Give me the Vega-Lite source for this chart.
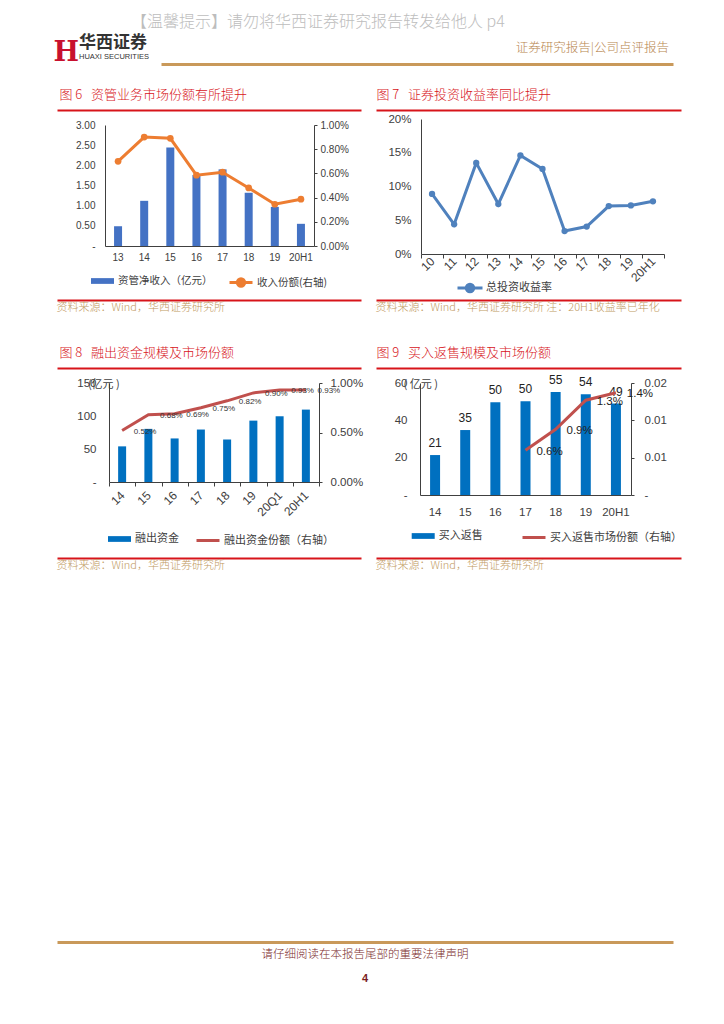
{
  "$schema": "https://vega.github.io/schema/vega-lite/v6.json",
  "background": "white",
  "padding": {"left": 52, "top": 13, "right": 5, "bottom": 5},
  "bounds": "flush",
  "align": "each",
  "columns": 2,
  "spacing": 0,
  "resolve": {"scale": {"fill": "independent", "stroke": "independent"}, "legend": {"fill": "independent", "stroke": "independent"}},
  "title": {"text": "【温馨提示】请勿将华西证券研究报告转发给他人 p4", "anchor": "start", "frame": "group", "dx": 74, "offset": 4, "fontSize": 16, "fontWeight": 300, "color": "#BDBDBD", "font": "Noto Sans CJK SC"},
  "config": {
    "view": {"stroke": null},
    "font": "Liberation Sans",
    "axis": {"grid": false, "labelOverlap": false, "domainColor": "#404040", "tickColor": "#404040", "labelColor": "#404040", "labelFont": "Liberation Sans", "titleFont": "Noto Sans CJK SC"},
    "legend": {"labelFont": "Noto Sans CJK SC", "labelColor": "#404040", "padding": 0, "labelOffset": 4, "labelLimit": 300},
    "title": {"font": "Noto Sans CJK SC", "fontWeight": "normal"}
  },
  "datasets": {
    "d6": [
      {"year": "13", "income": 0.49, "share": 0.0070},
      {"year": "14", "income": 1.12, "share": 0.0090},
      {"year": "15", "income": 2.44, "share": 0.0089},
      {"year": "16", "income": 1.76, "share": 0.00585},
      {"year": "17", "income": 1.90, "share": 0.0061},
      {"year": "18", "income": 1.32, "share": 0.0048},
      {"year": "19", "income": 0.97, "share": 0.00345},
      {"year": "20H1", "income": 0.55, "share": 0.00387}
    ],
    "d7": [
      {"year": "10", "rate": 0.089},
      {"year": "11", "rate": 0.044},
      {"year": "12", "rate": 0.135},
      {"year": "13", "rate": 0.074},
      {"year": "14", "rate": 0.146},
      {"year": "15", "rate": 0.126},
      {"year": "16", "rate": 0.034},
      {"year": "17", "rate": 0.0406},
      {"year": "18", "rate": 0.071},
      {"year": "19", "rate": 0.072},
      {"year": "20H1", "rate": 0.078}
    ],
    "d8": [
      {"year": "14", "amount": 54, "share": 0.0052},
      {"year": "15", "amount": 80.5, "share": 0.0068},
      {"year": "16", "amount": 66, "share": 0.0069},
      {"year": "17", "amount": 79.5, "share": 0.0075},
      {"year": "18", "amount": 64.4, "share": 0.0082},
      {"year": "19", "amount": 93, "share": 0.0090},
      {"year": "20Q1", "amount": 99.6, "share": 0.0093},
      {"year": "20H1", "amount": 109.7, "share": 0.0093}
    ],
    "d9": [
      {"year": "14", "amount": 21.4, "share": null},
      {"year": "15", "amount": 34.8, "share": null},
      {"year": "16", "amount": 49.7, "share": null},
      {"year": "17", "amount": 50.2, "share": 0.006},
      {"year": "18", "amount": 55.2, "share": 0.0088},
      {"year": "19", "amount": 54, "share": 0.0127},
      {"year": "20H1", "amount": 49, "share": 0.0137}
    ],
    "line2": [{"v": 0}, {"v": 1}],
    "empty": []
  },
  "concat": [
    {"width": 319, "height": 1, "data": {"name": "line2"}, "mark": {"type": "point", "opacity": 0, "size": 1},
     "encoding": {"x": {"field": "v", "type": "quantitative", "scale": {"range": [104, 616]}, "axis": {"domainColor": "#C9995A", "domainWidth": 3, "ticks": false, "labels": false, "title": "H", "titleFont": "DejaVu Serif", "titleFontSize": 27, "titleFontWeight": "bold", "titleColor": "#C8102E", "titleAlign": "left", "titleBaseline": "alphabetic", "titleX": -4, "titleY": -4}}},
     "title": {"text": "华西证券", "subtitle": "HUAXI SECURITIES", "orient": "bottom", "anchor": "start", "frame": "group", "dx": 22, "offset": -30.5, "fontSize": 17, "fontWeight": "bold", "color": "#333333", "subtitleFont": "Liberation Sans", "subtitleFontSize": 7.5, "subtitleColor": "#333333", "subtitlePadding": 1}},
    {"width": 305, "height": 1, "data": {"name": "line2"}, "mark": {"type": "point", "opacity": 0, "size": 1},
     "encoding": {"x": {"field": "v", "type": "quantitative", "axis": null}},
     "title": {"text": "证券研究报告|公司点评报告", "anchor": "end", "frame": "group", "dx": -12, "offset": 9, "fontSize": 12.5, "fontWeight": 300, "color": "#B8864E"}},

    {"width": 1, "height": 45, "data": {"name": "empty"}, "mark": "point"},
    {"width": 1, "height": 45, "data": {"name": "empty"}, "mark": "point"},

    {"width": 1, "height": 1, "data": {"name": "line2"}, "mark": {"type": "point", "opacity": 0, "size": 1},
     "encoding": {"x": {"field": "v", "type": "quantitative", "scale": {"range": [0, 304]}, "axis": {"domainColor": "#D7141A", "domainWidth": 2, "ticks": false, "labels": false, "title": null}}},
     "title": {"text": "图 6\u00a0\u00a0\u00a0资管业务市场份额有所提升", "anchor": "start", "dx": 3, "offset": 7, "fontSize": 13, "fontWeight": 300, "color": "#D7141A"}},
    {"width": 1, "height": 1, "data": {"name": "line2"}, "mark": {"type": "point", "opacity": 0, "size": 1},
     "encoding": {"x": {"field": "v", "type": "quantitative", "scale": {"range": [0, 305]}, "axis": {"domainColor": "#D7141A", "domainWidth": 2, "ticks": false, "labels": false, "title": null}}},
     "title": {"text": "图 7\u00a0\u00a0\u00a0证券投资收益率同比提升", "anchor": "start", "dx": 1, "offset": 7, "fontSize": 13, "fontWeight": 300, "color": "#D7141A"}},

    {"width": 1, "height": 9, "data": {"name": "empty"}, "mark": "point"},
    {"width": 1, "height": 9, "data": {"name": "empty"}, "mark": "point"},

    {
      "width": 257, "height": 127,
      "data": {"name": "d6"},
      "layer": [
        {
          "mark": {"type": "bar", "width": 8},
          "encoding": {
            "x": {"field": "year", "type": "ordinal", "sort": null, "scale": {"type": "band", "paddingInner": 0, "paddingOuter": 0, "range": [48, 257]}, "axis": {"title": null, "labelAngle": 0, "ticks": false, "labelFontSize": 10, "labelPadding": 6}},
            "y": {"field": "income", "type": "quantitative", "scale": {"domain": [0, 3], "nice": false, "range": [127, 6]}, "axis": {"title": null, "offset": -48, "values": [0, 0.5, 1, 1.5, 2, 2.5, 3], "labelExpr": "datum.value == 0 ? '-' : format(datum.value, '.2f')", "ticks": false, "labelPadding": 10, "labelFontSize": 10}},
            "fill": {"datum": "资管净收入（亿元）", "type": "nominal", "scale": {"range": ["#4472C4"]}, "legend": {"title": null, "orient": "none", "legendX": 34, "legendY": 150.5, "symbolType": "M-1,-0.25H1V0.25H-1Z", "symbolSize": 529, "symbolStrokeWidth": 0, "labelFontSize": 10.5, "labelOffset": 4}}
          }
        },
        {
          "layer": [
            {
              "mark": {"type": "line", "strokeWidth": 3},
              "encoding": {
                "x": {"field": "year", "type": "ordinal", "sort": null, "bandPosition": 0.5},
                "y": {"field": "share", "type": "quantitative", "scale": {"domain": [0, 0.01], "nice": false, "range": [127, 6]}, "axis": {"orient": "right", "title": null, "labelOverlap": false, "values": [0, 0.002, 0.004, 0.006, 0.008, 0.01], "format": ".2%", "tickSize": 3, "labelPadding": 3, "labelFontSize": 10}},
                "stroke": {"datum": "收入份额(右轴)", "type": "nominal", "scale": {"range": ["#ED7D31"]}, "legend": {"title": null, "orient": "none", "legendX": 171, "legendY": 150.5, "symbolType": "M-1,0H1M0.32,0A0.32,0.32,0,1,1,-0.32,0A0.32,0.32,0,1,1,0.32,0", "symbolSize": 529, "symbolStrokeWidth": 3, "labelFontSize": 10.5, "labelOffset": 3, "encode": {"symbols": {"update": {"fill": {"value": "#ED7D31"}}}}}}
              }
            },
            {
              "mark": {"type": "point", "filled": true, "size": 45, "color": "#ED7D31", "opacity": 1},
              "encoding": {
                "x": {"field": "year", "type": "ordinal", "sort": null, "bandPosition": 0.5},
                "y": {"field": "share", "type": "quantitative", "axis": {"orient": "right", "title": null, "labelOverlap": false, "values": [0, 0.002, 0.004, 0.006, 0.008, 0.01], "format": ".2%", "tickSize": 3, "labelPadding": 3, "labelFontSize": 10}}
              }
            }
          ]
        }
      ],
      "resolve": {"scale": {"y": "independent"}}
    },
    {
      "width": 288, "height": 135,
      "data": {"name": "d7"},
      "layer": [
        {
          "mark": {"type": "line", "strokeWidth": 3},
          "encoding": {
            "x": {"field": "year", "type": "ordinal", "sort": null, "bandPosition": 0.5, "scale": {"type": "band", "paddingInner": 0, "paddingOuter": 0, "range": [45, 288]}, "axis": {"title": null, "labelAngle": -45, "labelAlign": "right", "labelBaseline": "middle", "tickBand": "extent", "tickSize": 4, "labelFontSize": 12, "labelPadding": 1}},
            "y": {"field": "rate", "type": "quantitative", "scale": {"domain": [0, 0.2], "nice": false}, "axis": {"title": null, "offset": -45, "labelOverlap": false, "values": [0, 0.05, 0.1, 0.15, 0.2], "format": ".0%", "ticks": false, "labelPadding": 10, "labelFontSize": 11.5}},
            "stroke": {"datum": "总投资收益率", "type": "nominal", "scale": {"range": ["#4F81BD"]}, "legend": {"title": null, "orient": "none", "legendX": 80, "legendY": 155, "symbolType": "M-1,0H1M0.3,0A0.3,0.3,0,1,1,-0.3,0A0.3,0.3,0,1,1,0.3,0", "symbolSize": 625, "symbolStrokeWidth": 3, "labelFontSize": 11, "labelOffset": 2, "encode": {"symbols": {"update": {"fill": {"value": "#4F81BD"}}}}}}
          }
        },
        {
          "mark": {"type": "point", "filled": true, "size": 40, "color": "#4F81BD", "opacity": 1},
          "encoding": {
            "x": {"field": "year", "type": "ordinal", "sort": null, "bandPosition": 0.5},
            "y": {"field": "rate", "type": "quantitative", "axis": {"title": null, "offset": -45, "labelOverlap": false, "values": [0, 0.05, 0.1, 0.15, 0.2], "format": ".0%", "ticks": false, "labelPadding": 10, "labelFontSize": 11.5}}
          }
        }
      ]
    },

    {"width": 1, "height": 45, "data": {"name": "empty"}, "mark": "point"},
    {"width": 1, "height": 45, "data": {"name": "empty"}, "mark": "point"},

    {"width": 1, "height": 1, "data": {"name": "line2"}, "mark": {"type": "point", "opacity": 0, "size": 1},
     "encoding": {"x": {"field": "v", "type": "quantitative", "scale": {"range": [0, 304]}, "axis": {"domainColor": "#D7141A", "domainWidth": 2, "ticks": false, "labels": false, "title": null}}},
     "title": {"text": "资料来源：Wind，华西证券研究所", "orient": "bottom", "anchor": "start", "offset": 2, "fontSize": 11, "fontWeight": 300, "color": "#BF9A62"}},
    {"width": 1, "height": 1, "data": {"name": "line2"}, "mark": {"type": "point", "opacity": 0, "size": 1},
     "encoding": {"x": {"field": "v", "type": "quantitative", "scale": {"range": [0, 305]}, "axis": {"domainColor": "#D7141A", "domainWidth": 2, "ticks": false, "labels": false, "title": null}}},
     "title": {"text": "资料来源：Wind，华西证券研究所 注：20H1收益率已年化", "orient": "bottom", "anchor": "start", "offset": 2, "fontSize": 11, "fontWeight": 300, "color": "#BF9A62"}},

    {"width": 1, "height": 67, "data": {"name": "empty"}, "mark": "point"},
    {"width": 1, "height": 67, "data": {"name": "empty"}, "mark": "point"},

    {"width": 1, "height": 1, "data": {"name": "line2"}, "mark": {"type": "point", "opacity": 0, "size": 1},
     "encoding": {"x": {"field": "v", "type": "quantitative", "scale": {"range": [0, 304]}, "axis": {"domainColor": "#D7141A", "domainWidth": 2, "ticks": false, "labels": false, "title": null}}},
     "title": {"text": "图 8\u00a0\u00a0\u00a0融出资金规模及市场份额", "anchor": "start", "dx": 3, "offset": 7, "fontSize": 13, "fontWeight": 300, "color": "#D7141A"}},
    {"width": 1, "height": 1, "data": {"name": "line2"}, "mark": {"type": "point", "opacity": 0, "size": 1},
     "encoding": {"x": {"field": "v", "type": "quantitative", "scale": {"range": [0, 305]}, "axis": {"domainColor": "#D7141A", "domainWidth": 2, "ticks": false, "labels": false, "title": null}}},
     "title": {"text": "图 9\u00a0\u00a0\u00a0买入返售规模及市场份额", "anchor": "start", "dx": 1, "offset": 7, "fontSize": 13, "fontWeight": 300, "color": "#D7141A"}},

    {"width": 1, "height": 15, "data": {"name": "empty"}, "mark": "point"},
    {"width": 1, "height": 15, "data": {"name": "empty"}, "mark": "point"},

    {
      "width": 262, "height": 99,
      "data": {"name": "d8"},
      "layer": [
        {
          "mark": {"type": "bar", "width": 8},
          "encoding": {
            "x": {"field": "year", "type": "ordinal", "sort": null, "scale": {"type": "band", "paddingInner": 0, "paddingOuter": 0, "range": [52, 262]}, "axis": {"title": null, "labelAngle": -45, "labelAlign": "right", "labelBaseline": "middle", "tickBand": "extent", "tickSize": 4, "labelFontSize": 12, "labelPadding": 7}},
            "y": {"field": "amount", "type": "quantitative", "scale": {"domain": [0, 150], "nice": false}, "axis": {"title": "(亿元 )", "offset": -52, "titleAngle": 0, "titleX": -21.6, "titleY": 1.7, "titleAlign": "left", "titleBaseline": "middle", "titleFontSize": 11, "titleFontWeight": "normal", "titleColor": "#404040", "values": [0, 50, 100, 150], "labelExpr": "datum.value == 0 ? '-' : format(datum.value, 'd')", "ticks": false, "labelPadding": 13, "labelFontSize": 11.5}},
            "fill": {"datum": "融出资金", "type": "nominal", "scale": {"range": ["#0070C0"]}, "legend": {"title": null, "orient": "none", "legendX": 51, "legendY": 144.5, "symbolType": "M-1,-0.25H1V0.25H-1Z", "symbolSize": 529, "symbolStrokeWidth": 0, "labelFontSize": 11, "labelOffset": 4}}
          }
        },
        {
          "layer": [
            {
              "mark": {"type": "line", "strokeWidth": 3},
              "encoding": {
                "x": {"field": "year", "type": "ordinal", "sort": null, "bandPosition": 0.5},
                "y": {"field": "share", "type": "quantitative", "scale": {"domain": [0, 0.01], "nice": false}, "axis": {"orient": "right", "title": null, "labelOverlap": false, "values": [0, 0.005, 0.01], "format": ".2%", "tickSize": 3, "labelPadding": 8, "labelFontSize": 11.5}},
                "stroke": {"datum": "融出资金份额（右轴）", "type": "nominal", "scale": {"range": ["#C0504D"]}, "legend": {"title": null, "orient": "none", "legendX": 138, "legendY": 144.5, "symbolType": "M-1,0H1", "symbolSize": 529, "symbolStrokeWidth": 3, "labelFontSize": 11, "labelOffset": 3}}
              }
            },
            {
              "mark": {"type": "text", "dx": 23, "dy": 1, "fontSize": 8, "color": "#333333", "font": "Liberation Sans"},
              "encoding": {
                "x": {"field": "year", "type": "ordinal", "sort": null, "bandPosition": 0.5},
                "y": {"field": "share", "type": "quantitative", "axis": {"orient": "right", "title": null, "labelOverlap": false, "values": [0, 0.005, 0.01], "format": ".2%", "tickSize": 3, "labelPadding": 8, "labelFontSize": 11.5}},
                "text": {"field": "share", "type": "quantitative", "format": ".2%"}
              }
            }
          ]
        }
      ],
      "resolve": {"scale": {"y": "independent"}}
    },
    {
      "width": 255, "height": 112,
      "data": {"name": "d9"},
      "layer": [
        {
          "layer": [
            {
              "mark": {"type": "bar", "width": 10},
              "encoding": {
                "x": {"field": "year", "type": "ordinal", "sort": null, "scale": {"type": "band", "paddingInner": 0, "paddingOuter": 0, "range": [44, 255]}, "axis": {"title": null, "labelAngle": 0, "ticks": false, "labelFontSize": 11.5, "labelPadding": 11}},
                "y": {"field": "amount", "type": "quantitative", "scale": {"domain": [0, 60], "nice": false}, "axis": {"title": "( 亿元 )", "offset": -44, "titleAngle": 0, "titleX": -17, "titleY": 1.6, "titleAlign": "left", "titleBaseline": "middle", "titleFontSize": 11, "titleFontWeight": "normal", "titleColor": "#404040", "values": [0, 20, 40, 60], "labelExpr": "datum.value == 0 ? '-' : format(datum.value, 'd')", "ticks": false, "labelPadding": 13, "labelFontSize": 11.5}},
                "fill": {"datum": "买入返售", "type": "nominal", "scale": {"range": ["#0070C0"]}, "legend": {"title": null, "orient": "none", "legendX": 35.7, "legendY": 141.5, "symbolType": "M-1,-0.25H1V0.25H-1Z", "symbolSize": 529, "symbolStrokeWidth": 0, "labelFontSize": 11, "labelOffset": 4}}
              }
            },
            {
              "mark": {"type": "text", "dy": -12, "fontSize": 12, "color": "#222222", "font": "Liberation Sans"},
              "encoding": {
                "x": {"field": "year", "type": "ordinal", "sort": null, "bandPosition": 0.5},
                "y": {"field": "amount", "type": "quantitative", "axis": {"title": "( 亿元 )", "offset": -44, "titleAngle": 0, "titleX": -17, "titleY": 1.6, "titleAlign": "left", "titleBaseline": "middle", "titleFontSize": 11, "titleFontWeight": "normal", "titleColor": "#404040", "values": [0, 20, 40, 60], "labelExpr": "datum.value == 0 ? '-' : format(datum.value, 'd')", "ticks": false, "labelPadding": 13, "labelFontSize": 11.5}},
                "text": {"field": "amount", "type": "quantitative", "format": ".0f"}
              }
            }
          ]
        },
        {
          "layer": [
            {
              "mark": {"type": "line", "strokeWidth": 3},
              "encoding": {
                "x": {"field": "year", "type": "ordinal", "sort": null, "bandPosition": 0.5},
                "y": {"field": "share", "type": "quantitative", "scale": {"domain": [0, 0.015], "nice": false}, "axis": {"orient": "right", "title": null, "labelOverlap": false, "values": [0, 0.005, 0.01, 0.015], "labelExpr": "datum.value == 0 ? '-' : format(datum.value + 1e-9, '.2f')", "tickSize": 3, "labelPadding": 10, "labelFontSize": 11.5}},
                "stroke": {"datum": "买入返售市场份额（右轴）", "type": "nominal", "scale": {"range": ["#C0504D"]}, "legend": {"title": null, "orient": "none", "legendX": 145, "legendY": 141.5, "symbolType": "M-1,0H1", "symbolSize": 529, "symbolStrokeWidth": 3, "labelFontSize": 11, "labelOffset": 3}}
              }
            },
            {
              "mark": {"type": "text", "dx": 24, "dy": 1.5, "fontSize": 11.5, "color": "#222222", "font": "Liberation Sans"},
              "encoding": {
                "x": {"field": "year", "type": "ordinal", "sort": null, "bandPosition": 0.5},
                "y": {"field": "share", "type": "quantitative", "axis": {"orient": "right", "title": null, "labelOverlap": false, "values": [0, 0.005, 0.01, 0.015], "labelExpr": "datum.value == 0 ? '-' : format(datum.value + 1e-9, '.2f')", "tickSize": 3, "labelPadding": 10, "labelFontSize": 11.5}},
                "text": {"field": "share", "type": "quantitative", "format": ".1%"}
              }
            }
          ]
        }
      ],
      "resolve": {"scale": {"y": "independent"}}
    },

    {"width": 1, "height": 62, "data": {"name": "empty"}, "mark": "point"},
    {"width": 1, "height": 62, "data": {"name": "empty"}, "mark": "point"},

    {"width": 1, "height": 1, "data": {"name": "line2"}, "mark": {"type": "point", "opacity": 0, "size": 1},
     "encoding": {"x": {"field": "v", "type": "quantitative", "scale": {"range": [0, 304]}, "axis": {"domainColor": "#D7141A", "domainWidth": 2, "ticks": false, "labels": false, "title": null}}},
     "title": {"text": "资料来源：Wind，华西证券研究所", "orient": "bottom", "anchor": "start", "offset": 2, "fontSize": 11, "fontWeight": 300, "color": "#BF9A62"}},
    {"width": 1, "height": 1, "data": {"name": "line2"}, "mark": {"type": "point", "opacity": 0, "size": 1},
     "encoding": {"x": {"field": "v", "type": "quantitative", "scale": {"range": [0, 305]}, "axis": {"domainColor": "#D7141A", "domainWidth": 2, "ticks": false, "labels": false, "title": null}}},
     "title": {"text": "资料来源：Wind，华西证券研究所", "orient": "bottom", "anchor": "start", "offset": 2, "fontSize": 11, "fontWeight": 300, "color": "#BF9A62"}},

    {"width": 1, "height": 383, "data": {"name": "empty"}, "mark": "point"},
    {"width": 1, "height": 383, "data": {"name": "empty"}, "mark": "point"},

    {"width": 1, "height": 1, "data": {"name": "line2"}, "mark": {"type": "point", "opacity": 0, "size": 1},
     "encoding": {"x": {"field": "v", "type": "quantitative", "scale": {"range": [0, 616]}, "axis": {"domainColor": "#C9995A", "domainWidth": 3, "ticks": false, "labels": false, "title": null}}},
     "title": {"text": "请仔细阅读在本报告尾部的重要法律声明", "subtitle": "4", "orient": "bottom", "anchor": "middle", "frame": "bounds", "offset": 7, "fontSize": 11.5, "fontWeight": 300, "color": "#7B2A2A", "subtitleColor": "#7B1E1E", "subtitleFontSize": 11, "subtitleFontWeight": "bold", "subtitleFont": "Liberation Sans", "subtitlePadding": 12}},
    {"width": 1, "height": 1, "data": {"name": "empty"}, "mark": "point"}
  ]
}
